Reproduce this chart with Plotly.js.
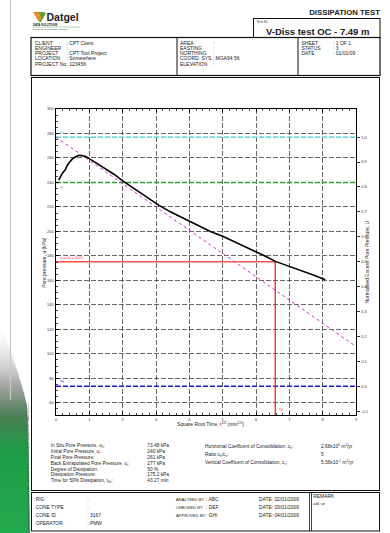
<!DOCTYPE html>
<html>
<head>
<meta charset="utf-8">
<script src="https://cdn.plot.ly/plotly-3.0.1.min.js"></script>
<style>
  html,body{margin:0;padding:0;background:#fff;}
  #page{position:relative;width:390px;height:533px;overflow:hidden;background:#fff;}
  #doc{position:absolute;left:0;top:0;}
  #chart{position:absolute;left:0;top:0;width:390px;height:533px;}
  text{font-family:"Liberation Sans",Arial,sans-serif;fill:#222;}
</style>
</head>
<body>
<div id="page">
<svg id="doc" width="390" height="533" viewBox="0 0 390 533">
  <defs>
    <linearGradient id="gr" x1="0" y1="0" x2="0" y2="1">
      <stop offset="0" stop-color="#ffffff" stop-opacity="0"/>
      <stop offset="0.3" stop-color="#a8a8a8"/>
      <stop offset="0.45" stop-color="#4d7d55"/>
      <stop offset="0.6" stop-color="#1f9a47"/>
      <stop offset="1" stop-color="#22aa4e"/>
    </linearGradient>
  </defs>
  <!-- page edge decoration -->
  <path d="M0,320 C8,345 20,375 27,405 C29,430 29,480 30,533 L0,533 Z" fill="url(#gr)"/>
  <line x1="10.5" y1="0" x2="10.5" y2="400" stroke="#c8c8c8" stroke-width="1.2"/>
  <text transform="translate(28.5,532) rotate(-90)" font-size="2.3" fill="#666">DATGEL CPT TOOL 1.0 - DISSIPATION TEST - Datgel CPT Tool Library - Generated with Datgel CPT Tool - www.datgel.com</text>

  <!-- logo -->
  <path d="M33,12 L38,12 L41,18 L39,22 Z" fill="#f08a24"/>
  <path d="M38,12 L43,12 L46,13 L41,22 L39,22 L41,18 Z" fill="#5ea32e"/>
  <text x="46.5" y="21" font-size="10.5" font-weight="bold" fill="#4a4a4a">Datgel</text>
  <text x="33" y="25.5" font-size="2.8" font-weight="bold" fill="#3a9a3a">DATA SOLUTIONS</text>
  <line x1="33" y1="27" x2="80" y2="27" stroke="#3a9a3a" stroke-width="0.4"/>
  <text x="33" y="29.5" font-size="1.8" fill="#777">Geotechnics - Geoenvironment - Laboratory</text>

  <text x="380" y="14.5" font-size="7.8" font-weight="bold" text-anchor="end" fill="#111">DISSIPATION TEST</text>

  <!-- Test ID box -->
  <rect x="253.5" y="18.5" width="126.5" height="19" fill="none" stroke="#111" stroke-width="1"/>
  <text x="256.5" y="23.3" font-size="3.6">Test ID</text>
  <text x="266" y="35" font-size="9.5" font-weight="bold" fill="#111">V-Diss test OC - 7.49 m</text>

  <!-- info box -->
  <rect x="31" y="37.5" width="349" height="38" fill="none" stroke="#111" stroke-width="1.2"/>
  <line x1="177" y1="37.5" x2="177" y2="75.5" stroke="#111" stroke-width="1"/>
  <line x1="298" y1="37.5" x2="298" y2="75.5" stroke="#111" stroke-width="1"/>
  <g font-size="5">
    <text x="35" y="44.5">CLIENT</text><text x="66.5" y="44.5">: CPT Client</text>
    <text x="35" y="49.8">ENGINEER</text><text x="66.5" y="49.8">:</text>
    <text x="35" y="55.1">PROJECT</text><text x="66.5" y="55.1">: CPT Tool Project</text>
    <text x="35" y="60.4">LOCATION</text><text x="66.5" y="60.4">: Somewhere</text>
    <text x="35" y="65.7">PROJECT No.</text><text x="66.5" y="65.7">: 123456</text>
    <text x="180" y="44.5">AREA</text><text x="213" y="44.5">:</text>
    <text x="180" y="49.8">EASTING</text><text x="213" y="49.8">:</text>
    <text x="180" y="55.1">NORTHING</text><text x="213" y="55.1">:</text>
    <text x="180" y="60.4">COORD. SYS.: MGA94 56</text>
    <text x="180" y="65.7">ELEVATION</text><text x="213" y="65.7">:</text>
    <text x="301.5" y="44.5">SHEET</text><text x="333" y="44.5">: 1 OF 1</text>
    <text x="301.5" y="49.8">STATUS</text><text x="333" y="49.8">: 3</text>
    <text x="301.5" y="55.1">DATE</text><text x="333" y="55.1">: 01/01/09</text>
  </g>

  <!-- chart frame -->
  <rect x="31.5" y="77.5" width="348" height="413" fill="none" stroke="#111" stroke-width="1"/>

  <!-- statistics -->
  <g font-size="4.8">
    <text x="50.7" y="447">In Situ Pore Pressure, u<tspan font-size="3.2" dy="1">0</tspan><tspan dy="-1">:</tspan></text>
    <text x="50.7" y="453.3">Initial Pore Pressure, u<tspan font-size="3.2" dy="1">i</tspan><tspan dy="-1">:</tspan></text>
    <text x="50.7" y="459">Final Pore Pressure:</text>
    <text x="50.7" y="464.8">Back Extrapolated Pore Pressure, u<tspan font-size="3.2" dy="1">i</tspan><tspan dy="-1">:</tspan></text>
    <text x="50.7" y="470.6">Degree of Dissipation:</text>
    <text x="50.7" y="476.4">Dissipation Pressure:</text>
    <text x="50.7" y="482.2">Time for 50% Dissipation, t<tspan font-size="3.2" dy="1">50</tspan><tspan dy="-1">:</tspan></text>
    <text x="147.3" y="447">73.48 kPa</text>
    <text x="147.3" y="453.3">240 kPa</text>
    <text x="147.3" y="459">261 kPa</text>
    <text x="147.3" y="464.8">277 kPa</text>
    <text x="147.3" y="470.6">50 %</text>
    <text x="147.3" y="476.4">175.2 kPa</text>
    <text x="147.3" y="482.2">43.27 min</text>
    <text x="205" y="447.5">Horizontal Coefficent of Consolidation, c<tspan font-size="3.2" dy="1">h</tspan><tspan dy="-1">:</tspan></text>
    <text x="205" y="455.8">Ratio c<tspan font-size="3.2" dy="1">h</tspan><tspan dy="-1">/c</tspan><tspan font-size="3.2" dy="1">v</tspan><tspan dy="-1">:</tspan></text>
    <text x="205" y="464.1">Vertical Coefficent of Consolidation, c<tspan font-size="3.2" dy="1">v</tspan><tspan dy="-1">:</tspan></text>
    <text x="321" y="447.5">2.68x10<tspan font-size="3.2" dy="-1.8">0</tspan><tspan dy="1.8"> m</tspan><tspan font-size="3.2" dy="-1.8">2</tspan><tspan dy="1.8">/yr</tspan></text>
    <text x="321" y="455.8">5</text>
    <text x="321" y="464.1">5.36x10<tspan font-size="3.2" dy="-1.8">-1</tspan><tspan dy="1.8"> m</tspan><tspan font-size="3.2" dy="-1.8">2</tspan><tspan dy="1.8">/yr</tspan></text>
  </g>

  <!-- bottom table -->
  <rect x="31.5" y="492.5" width="348" height="38.5" fill="none" stroke="#111" stroke-width="1"/>
  <line x1="309.5" y1="492.5" x2="309.5" y2="531" stroke="#111" stroke-width="0.8"/>
  <line x1="311.5" y1="492.5" x2="311.5" y2="531" stroke="#111" stroke-width="0.8"/>
  <g font-size="4.9">
    <text x="35.7" y="500.8">RIG</text><text x="87.3" y="500.8">:</text>
    <text x="35.7" y="508.8">CONE TYPE</text><text x="87.3" y="508.8">:</text>
    <text x="35.7" y="516.8">CONE ID</text><text x="87.3" y="516.8">: 3167</text>
    <text x="35.7" y="524.8">OPERATOR</text><text x="87.3" y="524.8">: PMW</text>
    <text x="176" y="500.8" font-size="4.1">ANALYSED BY</text><text x="206" y="500.8">: ABC</text>
    <text x="176" y="508.8" font-size="4.1">CHECKED BY</text><text x="206" y="508.8">: DEF</text>
    <text x="176" y="516.8" font-size="4.1">APPROVED BY</text><text x="206" y="516.8">: GHI</text>
    <text x="259" y="500.8">DATE:  02/01/2009</text>
    <text x="259" y="508.8">DATE:  03/01/2009</text>
    <text x="259" y="516.8">DATE:  04/01/2009</text>
    <text x="313.3" y="497.8">REMARK</text>
    <text x="313.3" y="505" font-size="3.3">add; var</text>
  </g>
</svg>
<div id="chart"></div>
</div>
<script>
// ---- data ----
const sqrtTime = [0.08,0.14,0.20,0.28,0.35,0.42,0.50,0.58,0.68,0.78,0.88,1.00,1.13,1.30,1.53,1.75,1.98,2.15,2.33,2.55,2.83,3.08,3.43,3.70,3.98,4.30,4.63,5.00,5.33,5.60,5.83,6.03,6.30,6.58,6.95,7.33,7.70,8.08];
const porePressure = [242,245,247.8,250.5,254.5,257,259.4,260.8,262.1,261.8,261.3,259.5,257.2,254.2,250.4,246.5,241.7,238.5,235.5,231,225.5,221.5,216,212.5,208.5,204.2,200,196,191.8,188.8,185.5,183.3,179.5,175.5,172,168.5,164.5,160.5];

const u0 = 73.48;          // in situ pore pressure
const uInitial = 240;      // initial pore pressure
const uBack = 277;         // back extrapolated pore pressure
const u50 = 175.2;         // dissipation pressure at U = 50%
const t50 = 43.27;         // minutes
const backLineX = [0, 9];
const backLineU = [277, 106];

const xTicks = [0,1,2,3,4,5,6,7,8,9];
const yTicks = [60,80,100,120,140,160,180,200,220,240,260,280,300];
const uTicks = [-0.1,0,0.1,0.2,0.3,0.4,0.5,0.6,0.7,0.8,0.9,1.0];
const uTickText = ["-0.1","0.0","0.1","0.2","0.3","0.4","0.5","0.6","0.7","0.8","0.9","1.0"];
const yRange = [50, 300];
const xRange = [0, 9];

// ---- drawing ----
const sqrtT50 = Math.sqrt(t50);
const FONT = '"Liberation Sans", Arial, sans-serif';
const dash = '5px,2px';

const traces = [
  {x: xRange, y: [uBack, uBack], mode:'lines', line:{color:'#2fd0d0', width:1.3, dash:dash}, hoverinfo:'skip'},
  {x: xRange, y: [uInitial, uInitial], mode:'lines', line:{color:'#2ea02e', width:1.4, dash:dash}, hoverinfo:'skip'},
  {x: xRange, y: [u0, u0], mode:'lines', line:{color:'#1a1ad0', width:1.3, dash:dash}, hoverinfo:'skip'},
  {x: [0, sqrtT50], y: [u50, u50], mode:'lines', line:{color:'#ff5050', width:1.4}, hoverinfo:'skip'},
  {x: [sqrtT50, sqrtT50], y: [u50, yRange[0]], mode:'lines', line:{color:'#ff2020', width:1.3}, hoverinfo:'skip'},
  {x: backLineX, y: backLineU, mode:'lines', line:{color:'#d030d0', width:1, dash:'dot'}, hoverinfo:'skip'},
  {x: sqrtTime, y: porePressure, mode:'lines', line:{color:'#000', width:1.6}, hoverinfo:'skip'},
  {x: [0], y: [0], yaxis:'y2', mode:'markers', marker:{opacity:0}, hoverinfo:'skip', showlegend:false}
];

const U = v => (v - u0) / (uBack - u0);

const layout = {
  width: 390, height: 533,
  margin: {l: 55.7, r: 34.3, t: 109.3, b: 118},
  paper_bgcolor: 'rgba(0,0,0,0)',
  plot_bgcolor: 'rgba(0,0,0,0)',
  showlegend: false,
  font: {family: FONT, size: 4, color: '#333'},
  xaxis: {
    range: xRange, tickvals: xTicks, ticks: 'inside', ticklen: 3, tickwidth: 0.8, tickcolor: '#000',
    minor: {dtick: 0.2, ticks: 'inside', ticklen: 2, tickwidth: 0.7, tickcolor: '#000', showgrid: false},
    showline: true, linecolor: '#000', linewidth: 1.4, mirror: 'ticks',
    showgrid: true, gridcolor: '#444', gridwidth: 0.8, griddash: dash, zeroline: false,
    tickfont: {size: 4, color: '#333'}
  },
  yaxis: {
    range: yRange, tickvals: yTicks, ticks: 'inside', ticklen: 3, tickwidth: 0.8, tickcolor: '#000',
    minor: {dtick: 5, ticks: 'inside', ticklen: 2, tickwidth: 0.7, tickcolor: '#000', showgrid: false},
    showline: true, linecolor: '#000', linewidth: 1.4,
    showgrid: true, gridcolor: '#444', gridwidth: 0.8, griddash: dash, zeroline: false,
    tickfont: {size: 4, color: '#333'}
  },
  yaxis2: {
    overlaying: 'y', side: 'right', range: [U(yRange[0]), U(yRange[1])],
    tickvals: uTicks, ticktext: uTickText, ticks: 'outside', ticklen: 3, tickwidth: 0.8, tickcolor: '#000',
    showline: true, linecolor: '#000', linewidth: 1.4, showgrid: false, zeroline: false,
    tickfont: {size: 4, color: '#333'}
  },
  annotations: [
    {xref:'paper', yref:'paper', x:0.514, y:-0.043, text:'Square Root Time, t<sup>1/2</sup> (min<sup>1/2</sup>)', showarrow:false, borderpad:0, font:{size:5, color:'#222'}},
    {xref:'paper', yref:'paper', x:-0.054, y:0.5, text:'Pore pressure, u (kPa)', textangle:-90, showarrow:false, borderpad:0, font:{size:5, color:'#222'}},
    {xref:'paper', yref:'paper', x:1.051, y:0.5, text:'Normalised Excess Pore Pressure, U', textangle:-90, showarrow:false, borderpad:0, font:{size:5, color:'#222'}},
    {x:0.05, y:uBack, text:'u<sub>i</sub>', showarrow:false, xanchor:'left', yanchor:'bottom', font:{size:4, color:'#2fd0d0'}},
    {x:0.05, y:uInitial, text:'u<sub>i</sub>', showarrow:false, xanchor:'left', yanchor:'top', font:{size:4, color:'#2ea02e'}},
    {x:0.05, y:u50, text:'u at U = 50%', showarrow:false, xanchor:'left', yanchor:'bottom', font:{size:4, color:'#ff3030'}},
    {x:0.05, y:u0, text:'u<sub>0</sub>', showarrow:false, xanchor:'left', yanchor:'bottom', font:{size:4, color:'#1a1ad0'}},
    {x:sqrtT50 + 0.05, y:yRange[0], text:'t<sub>50</sub>', showarrow:false, xanchor:'left', yanchor:'bottom', yshift:1, font:{size:4, color:'#ff3030'}}
  ]
};

Plotly.newPlot('chart', traces, layout, {staticPlot: true, displayModeBar: false});
</script>
</body>
</html>
